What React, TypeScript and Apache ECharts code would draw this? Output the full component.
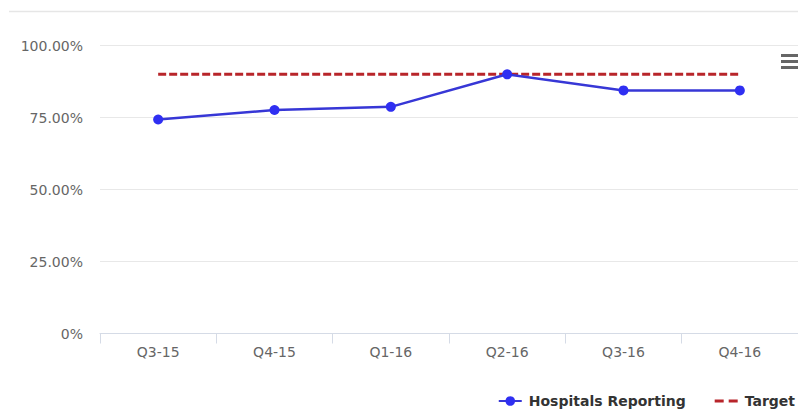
import React, { useEffect, useRef } from "react";
import * as echarts from "echarts";

// Quarterly reporting share against the fixed target
const quarters = ["Q3-15", "Q4-15", "Q1-16", "Q2-16", "Q3-16", "Q4-16"];
const hospitalsReporting = [74.3, 77.6, 78.7, 90, 84.4, 84.4];
const target = [90, 90, 90, 90, 90, 90];
const yTicks = { min: 0, max: 100, interval: 25 };

const FONT = "'DejaVu Sans', Verdana, sans-serif";
const BLUE_LINE = "#3737d6";
const BLUE_DOT = "#2f2ff2";
const RED = "#b8252a";

// Two short dashes for the target's legend key
const DASH_ICON = "path://M0,0 H9 V3 H0 Z M14,0 H23 V3 H14 Z";

export default function App() {
  const ref = useRef<HTMLDivElement>(null);

  useEffect(() => {
    if (!ref.current) return;
    const chart = echarts.init(ref.current, undefined, { renderer: "svg" });
    chart.setOption({
      animation: false,
      backgroundColor: "#ffffff",
      grid: { left: 100, top: 45.5, width: 704, height: 288, containLabel: false },
      xAxis: {
        type: "category",
        data: quarters,
        boundaryGap: true,
        axisLine: { show: true, lineStyle: { color: "#d5dbe6", width: 1 } },
        axisTick: { show: true, length: 10, lineStyle: { color: "#d5dbe6" } },
        axisLabel: { color: "#666666", fontSize: 14, fontFamily: FONT, margin: 11 },
        splitLine: { show: false },
      },
      yAxis: {
        type: "value",
        min: yTicks.min,
        max: yTicks.max,
        interval: yTicks.interval,
        axisLine: { show: false },
        axisTick: { show: false },
        axisLabel: {
          color: "#666666",
          fontSize: 14,
          fontFamily: FONT,
          margin: 17,
          formatter: (v: number) => (v === 0 ? "0%" : v.toFixed(2) + "%"),
        },
        splitLine: { show: true, lineStyle: { color: "#e8e8e8", width: 1 } },
      },
      legend: {
        right: 3,
        top: 394,
        itemWidth: 23,
        itemHeight: 12,
        itemGap: 29,
        padding: 0,
        textStyle: {
          color: "#333333",
          fontSize: 14,
          fontWeight: "bold",
          fontFamily: FONT,
          padding: [0, 0, 0, 2],
        },
        data: [
          { name: "Hospitals Reporting" },
          { name: "Target", icon: DASH_ICON, itemStyle: { color: RED } },
        ],
      },
      series: [
        {
          name: "Hospitals Reporting",
          type: "line",
          data: hospitalsReporting,
          symbol: "circle",
          symbolSize: 10,
          z: 3,
          lineStyle: { color: BLUE_LINE, width: 2.5 },
          itemStyle: { color: BLUE_DOT },
        },
        {
          name: "Target",
          type: "line",
          data: target,
          symbol: "none",
          z: 2,
          lineStyle: { color: RED, width: 3, type: [8, 3] },
          itemStyle: { color: RED },
        },
      ],
      graphic: [
        {
          type: "line",
          shape: { x1: 9, y1: 11.5, x2: 798, y2: 11.5 },
          style: { stroke: "#e6e6e6", lineWidth: 1.5 },
          silent: true,
        },
        {
          type: "group",
          left: 781,
          top: 54,
          children: [
            { type: "rect", shape: { x: 0, y: 0, width: 17, height: 3 }, style: { fill: "#666666" } },
            { type: "rect", shape: { x: 0, y: 6, width: 17, height: 3 }, style: { fill: "#666666" } },
            { type: "rect", shape: { x: 0, y: 12, width: 17, height: 3 }, style: { fill: "#666666" } },
          ],
        },
      ],
    });
    return () => chart.dispose();
  }, []);

  return (
    <div
      ref={ref}
      style={{ position: "absolute", left: 0, top: 0, width: 798, height: 410, background: "#fff" }}
    />
  );
}
